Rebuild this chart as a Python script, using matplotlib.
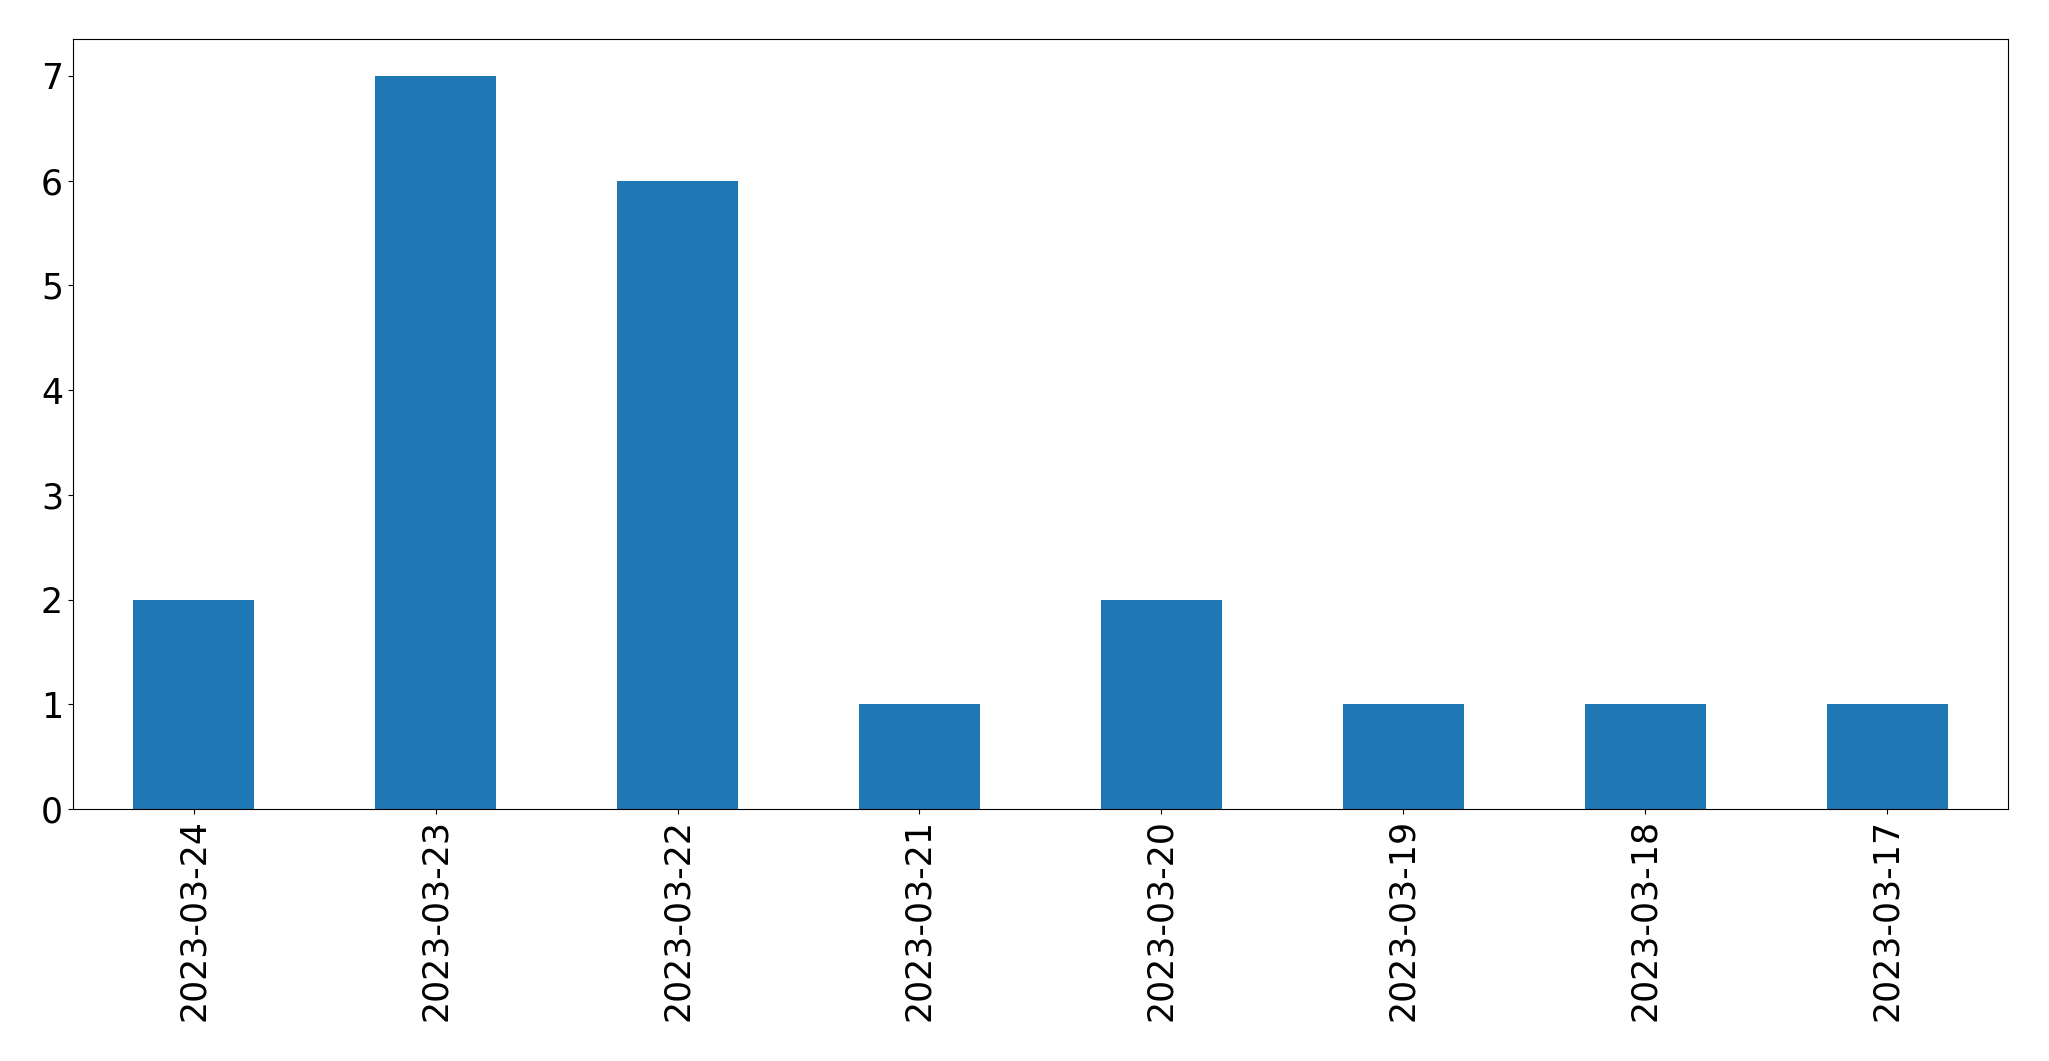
import matplotlib
matplotlib.use('Agg')
import matplotlib.pyplot as plt
import pandas as pd

# Counts per day
dates = ['2023-03-24', '2023-03-23', '2023-03-22', '2023-03-21',
         '2023-03-20', '2023-03-19', '2023-03-18', '2023-03-17']
counts = [2, 7, 6, 1, 2, 1, 1, 1]

s = pd.Series(counts, index=dates)

fig = plt.figure(figsize=(20.49, 10.61), dpi=100)
ax = fig.add_axes([0.0355, 0.2375, 0.9445, 0.7255])
s.plot(kind='bar', ax=ax, color='#1f77b4', fontsize=25)

plt.savefig('out.png', dpi=100)
